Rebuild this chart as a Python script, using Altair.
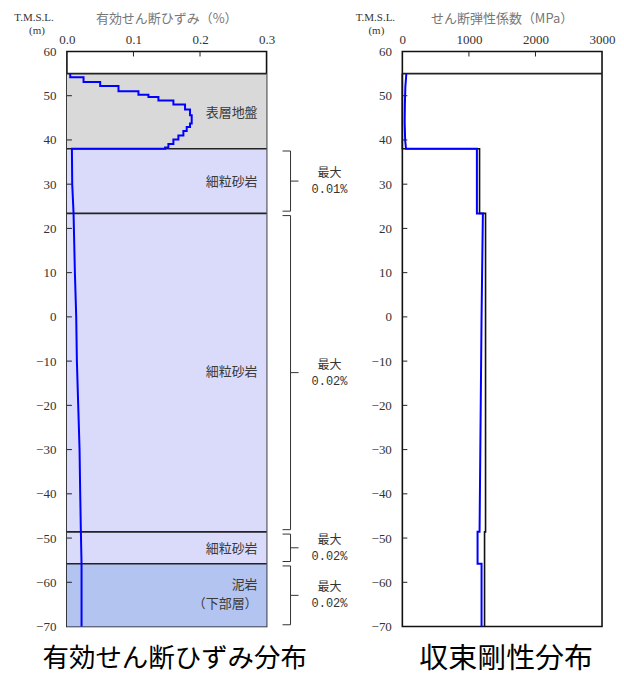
import altair as alt
import pandas as pd

# ---------------- data ----------------
layer_names = ["表層地盤", "細粒砂岩", "細粒砂岩", "細粒砂岩", "泥岩"]
layer_top = [55.0, 38.0, 23.4, -48.6, -55.8]
layer_bottom = [38.0, 23.4, -48.6, -55.8, -70.0]
layer_colors = ["#d9d9d9", "#dadafa", "#dadafa", "#dadafa", "#b3c4f1"]
boundaries = [55.0, 38.0, 23.4, -48.6, -55.8]

label_texts = ["表層地盤", "細粒砂岩", "細粒砂岩", "細粒砂岩", "泥岩", "（下部層）"]
label_elev = [46.0, 30.5, -12.5, -52.4, -60.6, -64.9]

brace_top = [37.5, 22.9, -49.1, -56.3]
brace_bottom = [23.9, -48.1, -55.3, -69.6]
brace_max = ["0.01%", "0.02%", "0.02%", "0.02%"]

# surface layer: stepwise strain (top elevation of each step, value)
strain_step_elev = [55.0, 54.2, 53.1, 52.2, 51.0, 50.2, 49.7, 48.9, 48.0, 46.9,
                    45.6, 43.7, 42.9, 42.0, 41.0, 40.1, 39.1, 38.3]
strain_step_vals = [0.005, 0.025, 0.05, 0.0775, 0.1075, 0.1225, 0.1375, 0.16,
                    0.1775, 0.185, 0.1875, 0.185, 0.18, 0.175, 0.1675, 0.16,
                    0.1525, 0.1475]
strain_step_base = 38.0
# rock: nearly linear strain profile
strain_rock_elev = [38.0, 30.0, 23.4, 10.0, 0.0, -10.0, -20.0, -30.0, -40.0,
                    -48.6, -55.8, -70.0]
strain_rock_vals = [0.0075, 0.008, 0.010, 0.012, 0.014, 0.015, 0.017, 0.019,
                    0.020, 0.021, 0.022, 0.022]

# shear modulus (blue) profile vertices
mod_blue_elev = [55.0, 52.0, 48.0, 44.0, 40.0, 38.0, 38.0, 23.4, 23.4, 0.0,
                 -48.6, -48.6, -55.8, -55.8, -70.0]
mod_blue = [60, 45, 38, 35, 42, 55, 1120, 1120, 1210, 1190, 1160, 1130, 1130,
            1190, 1190]
# initial modulus (black), stepwise
mod_black_elev = [55.0, 38.0, 23.4, -48.6, -70.0]
mod_black = [0, 1160, 1250, 1235, 1235]

y_ticks = list(range(-70, 61, 10))
strain_ticks = [0.0, 0.1, 0.2, 0.3]
mod_ticks = [0, 1000, 2000, 3000]
strain_dom = [0.0, 0.3]
mod_dom = [0, 3000]

# ---------------- frames ----------------
layers_df = pd.DataFrame({"name": layer_names, "top": layer_top,
                          "bottom": layer_bottom, "color": layer_colors})
bnd_df = pd.DataFrame({"e": boundaries})
labels_df = pd.DataFrame({"t": label_texts, "e": label_elev})
brace_df = pd.DataFrame({"top": brace_top, "bottom": brace_bottom, "m": brace_max})
brace_df["mid"] = (brace_df["top"] + brace_df["bottom"]) / 2
brace_df["lab"] = "最大"

# build the strain path: step corners for the surface layer, then the rock line
path_e, path_v = [], []
step_bottoms = strain_step_elev[1:] + [strain_step_base]
for top, bot, v in zip(strain_step_elev, step_bottoms, strain_step_vals):
    path_e += [top, bot]
    path_v += [v, v]
path_e += strain_rock_elev
path_v += strain_rock_vals
strain_df = pd.DataFrame({"e": path_e, "v": path_v, "i": range(len(path_v))})

blue_df = pd.DataFrame({"e": mod_blue_elev, "v": mod_blue,
                        "i": range(len(mod_blue))})
black_df = pd.DataFrame({"e": mod_black_elev, "v": mod_black,
                         "i": range(len(mod_black))})
ytick_df = pd.DataFrame({"e": y_ticks[1:-1]})

W, H = 200, 576
SERIF = "'Liberation Serif', 'Times New Roman', serif"
JP = "Noto Sans CJK JP"

yscale = alt.Scale(domain=[-70, 60], nice=False, zero=False)
yaxis = alt.Axis(values=y_ticks, labelPadding=11, tickSize=0, ticks=False,
                 domain=False, grid=False, title=None, labelFont=SERIF,
                 labelFontSize=13, labelColor="#333", labelFlush=False)


def xaxis(vals, fmt):
    return alt.Axis(orient="top", values=vals, format=fmt, labelPadding=5,
                    tickSize=0, ticks=False, domain=False, grid=False,
                    title=None, labelFont=SERIF, labelFontSize=13,
                    labelColor="#333", labelFlush=False, labelOverlap=False)


def fixed_text(txt, x, y, size, font, color="#333", align="center"):
    return alt.Chart(pd.DataFrame({"t": [txt]})).mark_text(
        fontSize=size, font=font, color=color, align=align, baseline="middle"
    ).encode(x=alt.value(x), y=alt.value(y), text="t:N")


def ticks_layer(xscale, xticks_inner):
    yt = alt.Chart(ytick_df).mark_rule(color="#222", strokeWidth=1).encode(
        x=alt.value(0), x2=alt.value(5), y=alt.Y("e:Q", scale=yscale))
    xt = alt.Chart(pd.DataFrame({"v": xticks_inner})).mark_rule(
        color="#222", strokeWidth=1).encode(
        x=alt.X("v:Q", scale=xscale), y=alt.value(0), y2=alt.value(5))
    return yt + xt


# ---------------- left panel ----------------
sx = alt.Scale(domain=strain_dom, nice=False, zero=False)

rects = alt.Chart(layers_df).mark_rect().encode(
    x=alt.XDatum(strain_dom[0], scale=sx, axis=xaxis(strain_ticks, ".1f")),
    x2=alt.X2Datum(strain_dom[1]),
    y=alt.Y("top:Q", scale=yscale, axis=yaxis),
    y2="bottom:Q",
    color=alt.Color("color:N", scale=None),
)
bnd = alt.Chart(bnd_df).mark_rule(color="#222", strokeWidth=1.6).encode(
    x=alt.XDatum(strain_dom[0]), x2=alt.X2Datum(strain_dom[1]),
    y=alt.Y("e:Q", scale=yscale))
strain_line = alt.Chart(strain_df).mark_line(
    color="#0000ff", strokeWidth=2).encode(
    x=alt.X("v:Q", scale=sx), y=alt.Y("e:Q", scale=yscale),
    order=alt.Order("i:Q"))
lay_lab = alt.Chart(labels_df).mark_text(
    align="right", baseline="middle", fontSize=13, font=JP, color="#3a3a3a").encode(
    x=alt.value(191), y=alt.Y("e:Q", scale=yscale), text="t:N")

b_vert = alt.Chart(brace_df).mark_rule(color="#333", strokeWidth=1).encode(
    x=alt.value(224), y=alt.Y("top:Q", scale=yscale), y2="bottom:Q")
b_mid = alt.Chart(brace_df).mark_rule(color="#333", strokeWidth=1).encode(
    x=alt.value(224), x2=alt.value(232), y=alt.Y("mid:Q", scale=yscale))
b_t = alt.Chart(brace_df).mark_rule(color="#333", strokeWidth=1).encode(
    x=alt.value(216), x2=alt.value(224), y=alt.Y("top:Q", scale=yscale))
b_b = alt.Chart(brace_df).mark_rule(color="#333", strokeWidth=1).encode(
    x=alt.value(216), x2=alt.value(224), y=alt.Y("bottom:Q", scale=yscale))
b_lab1 = alt.Chart(brace_df).mark_text(
    fontSize=12, font=JP, color="#333", dy=-8).encode(
    x=alt.value(263), y=alt.Y("mid:Q", scale=yscale), text="lab:N")
b_lab2 = alt.Chart(brace_df).mark_text(
    fontSize=12, font="Liberation Mono", color="#333", dy=8).encode(
    x=alt.value(263), y=alt.Y("mid:Q", scale=yscale), text="m:N")

left = alt.layer(
    rects, bnd, strain_line, ticks_layer(sx, [0.1, 0.2]), lay_lab,
    b_vert, b_mid, b_t, b_b, b_lab1, b_lab2,
    fixed_text("T.M.S.L.", -33, -34, 11, SERIF),
    fixed_text("(m)", -30, -21, 11, SERIF),
    fixed_text("有効せん断ひずみ（%）", 100, -33, 13, JP, color="#777"),
    fixed_text("有効せん断ひずみ分布", 108, 609, 26.5, JP, color="#000"),
).properties(width=W, height=H)

# ---------------- right panel ----------------
mx = alt.Scale(domain=mod_dom, nice=False, zero=False)

ground = alt.Chart(pd.DataFrame({"e": [boundaries[0]]})).mark_rule(
    color="#222", strokeWidth=1.6).encode(
    x=alt.XDatum(mod_dom[0], scale=mx, axis=xaxis(mod_ticks, "d")),
    x2=alt.X2Datum(mod_dom[1]),
    y=alt.Y("e:Q", scale=yscale, axis=yaxis))
black_line = alt.Chart(black_df).mark_line(
    color="#111", strokeWidth=1.6, interpolate="step-before").encode(
    x=alt.X("v:Q", scale=mx), y=alt.Y("e:Q", scale=yscale),
    order=alt.Order("i:Q"))
blue_line = alt.Chart(blue_df).mark_line(
    color="#0000ff", strokeWidth=2).encode(
    x=alt.X("v:Q", scale=mx), y=alt.Y("e:Q", scale=yscale),
    order=alt.Order("i:Q"))

right = alt.layer(
    ground, black_line, blue_line, ticks_layer(mx, [1000, 2000]),
    fixed_text("T.M.S.L.", -27, -34, 11, SERIF),
    fixed_text("(m)", -26, -21, 11, SERIF),
    fixed_text("せん断弾性係数（MPa）", 100, -33, 13, JP, color="#777"),
    fixed_text("収束剛性分布", 104, 609, 29, JP, color="#000"),
).properties(width=W, height=H)

chart = alt.hconcat(left, right, spacing=6).properties(
    padding={"left": 5, "top": 2, "right": 0, "bottom": 0}
).configure_view(stroke="#111", strokeWidth=1.6)

chart.save("out.html", embed_options={"renderer": "svg", "actions": False})
